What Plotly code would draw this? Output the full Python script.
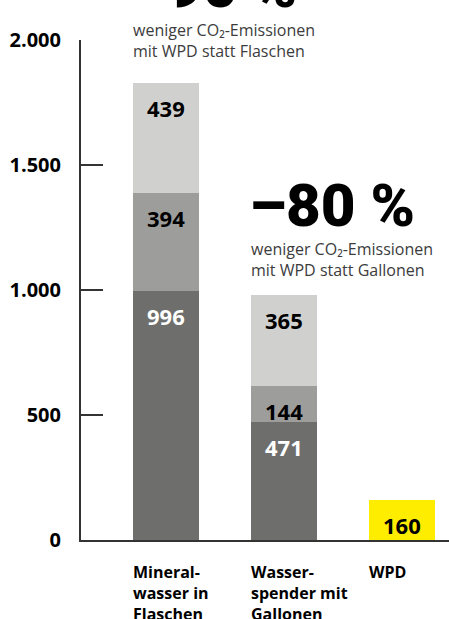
import plotly.graph_objects as go

# ---- data ----
categories = ["Mineral-<br>wasser in<br>Flaschen", "Wasser-<br>spender mit<br>Gallonen", "WPD"]
x_pos = [0, 1, 2]
seg_bottom = [996, 471, None]
seg_middle = [394, 144, None]
seg_top = [439, 365, None]
wpd_values = [None, None, 160]
y_ticks = [0, 500, 1000, 1500, 2000]
headline_1 = "–90 %"
sub_1 = "weniger CO₂-Emissionen<br>mit WPD statt Flaschen"
headline_2 = "–80 %"
sub_2 = "weniger CO₂-Emissionen<br>mit WPD statt Gallonen"

# ---- style ----
C_DARK = "#6e6e6d"
C_MID = "#9d9e9c"
C_LIGHT = "#d0d1cf"
C_YELLOW = "#ffed00"
BAR_W = 0.56
FONT = "Open Sans"

fig = go.Figure()
series = [
    (seg_bottom, C_DARK, "white"),
    (seg_middle, C_MID, "black"),
    (seg_top, C_LIGHT, "black"),
    (wpd_values, C_YELLOW, "black"),
]
for vals, col, _ in series:
    fig.add_trace(go.Bar(x=x_pos, y=vals, marker=dict(color=col, line=dict(width=0)),
                         width=BAR_W, showlegend=False, hoverinfo="skip"))

annotations = []
# value labels near top of each segment
cum = [0, 0, 0]
for vals, col, tcol in series:
    for i, v in enumerate(vals):
        if v is None:
            continue
        cum[i] += v
        annotations.append(dict(x=x_pos[i], y=cum[i], xref="x", yref="y", text=f"<b>{v}</b>",
                                showarrow=False, yanchor="top", yshift=-8,
                                font=dict(family=FONT, size=22, color=tcol)))

# category labels
for i, c in enumerate(categories):
    annotations.append(dict(x=x_pos[i] - BAR_W / 2, y=0, xref="x", yref="y", text=f"<b>{c}</b>",
                            showarrow=False, xanchor="left", yanchor="top", align="left", yshift=-19,
                            xshift=-2, font=dict(family=FONT, size=16, color="black")))

# headlines
annotations.append(dict(x=x_pos[0] - BAR_W / 2, y=1.107, xref="x", yref="paper", text=headline_1,
                        showarrow=False, xanchor="left", yanchor="middle", xshift=-4,
                        font=dict(family="Roboto", size=60, color="black", weight=900)))
annotations.append(dict(x=x_pos[0] - BAR_W / 2, y=1.046, xref="x", yref="paper", text=sub_1,
                        showarrow=False, xanchor="left", yanchor="top", align="left", xshift=-2,
                        font=dict(family=FONT, size=16, color="#3c3c3c")))
annotations.append(dict(x=x_pos[1] - BAR_W / 2, y=0.668, xref="x", yref="paper", text=headline_2,
                        showarrow=False, xanchor="left", yanchor="middle", xshift=-4,
                        font=dict(family="Roboto", size=60, color="black", weight=900)))
annotations.append(dict(x=x_pos[1] - BAR_W / 2, y=0.608, xref="x", yref="paper", text=sub_2,
                        showarrow=False, xanchor="left", yanchor="top", align="left", xshift=-2,
                        font=dict(family=FONT, size=16, color="#3c3c3c")))

fig.update_layout(
    width=449, height=619,
    margin=dict(l=81, r=0, t=40, b=79),
    paper_bgcolor="white", plot_bgcolor="white",
    barmode="stack", bargap=0,
    separators=",.",
    annotations=annotations,
    font=dict(family=FONT),
)
fig.update_xaxes(range=[-0.72, 2.40], showticklabels=False, showgrid=False, zeroline=False,
                 showline=True, linecolor="#333333", linewidth=2, ticks="", fixedrange=True)
fig.update_yaxes(range=[0, 2000], tickvals=y_ticks, tickformat=",d", showgrid=False, zeroline=False,
                 showline=True, linecolor="#333333", linewidth=2,
                 ticks="inside", ticklen=22, tickwidth=1.5, tickcolor="#333333",
                 ticklabelstandoff=14, fixedrange=True,
                 tickfont=dict(family=FONT, size=20, color="black", weight="bold"))

fig.write_html("out.html", config={"displayModeBar": False},
               post_script="document.body.style.margin='0';document.body.style.overflow='hidden';")
